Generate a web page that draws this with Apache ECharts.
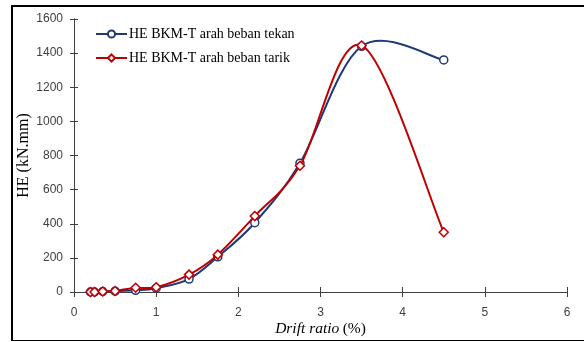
<!DOCTYPE html>
<html>
<head>
<meta charset="utf-8">
<script src="https://cdn.jsdelivr.net/npm/echarts@6/dist/echarts.min.js"></script>
<style>
html,body{margin:0;padding:0;background:#fff;}
#c{width:584px;height:342px;}
</style>
</head>
<body>
<div id="c"></div>
<script>
var driftRatio = [0.2, 0.25, 0.35, 0.5, 0.75, 1.0, 1.4, 1.75, 2.2, 2.75, 3.5, 4.5];
var heTekan = [0, 0, 3, 5, 10, 22, 76, 206, 406, 755, 1440, 1360];
var heTarik = [0, 0, 3, 6, 25, 28, 102, 219, 445, 740, 1445, 350];
var seriesNames = ['HE BKM-T arah beban tekan', 'HE BKM-T arah beban tarik'];

var blue = '#1F3978', red = '#C00000', axisColor = '#404040';

function pairs(xs, ys) { return xs.map(function (x, i) { return [x, ys[i]]; }); }

// Smooth (Catmull-Rom style) curve through the data points, drawn via the chart's own scales
function smoothRenderer(xs, ys, color) {
  return function (params, api) {
    var i = params.dataIndex, n = xs.length;
    if (i >= n - 1) return null;
    function p(k) { k = Math.max(0, Math.min(n - 1, k)); return api.coord([xs[k], ys[k]]); }
    var P0 = p(i - 1), P1 = p(i), P2 = p(i + 1), P3 = p(i + 2);
    return {
      type: 'bezierCurve',
      shape: {
        x1: P1[0], y1: P1[1], x2: P2[0], y2: P2[1],
        cpx1: P1[0] + (P2[0] - P0[0]) / 6, cpy1: P1[1] + (P2[1] - P0[1]) / 6,
        cpx2: P2[0] - (P3[0] - P1[0]) / 6, cpy2: P2[1] - (P3[1] - P1[1]) / 6
      },
      style: {stroke: color, lineWidth: 2, fill: null}
    };
  };
}

var chart = echarts.init(document.getElementById('c'), null, {renderer: 'canvas'});
var xCommon = {type: 'value', min: 0, max: 6, interval: 1, splitLine: {show: false},
  axisLine: {lineStyle: {color: axisColor}}};
var yCommon = {type: 'value', min: 0, max: 1600, interval: 200, splitLine: {show: false},
  axisLine: {lineStyle: {color: axisColor}}};
chart.setOption({
  animation: false,
  grid: {left: 74, right: 17, top: 19, bottom: 50, containLabel: false, outerBoundsMode: 'none'},
  legend: {
    left: 95, top: 27, padding: 0, orient: 'vertical', itemGap: 10, itemWidth: 31, itemHeight: 9,
    textStyle: {fontFamily: 'Liberation Serif', fontSize: 14, lineHeight: 14, color: '#000', padding: [0, 0, 0, -3]},
    data: [
      {name: seriesNames[0], lineStyle: {color: blue, width: 2, opacity: 1}},
      {name: seriesNames[1], lineStyle: {color: red, width: 2, opacity: 1}}
    ]
  },
  xAxis: [
    Object.assign({}, xCommon, {
      axisTick: {show: true, inside: false, length: 5, lineStyle: {color: axisColor}},
      axisLabel: {fontFamily: 'Liberation Sans', fontSize: 12, color: '#404040', margin: 15},
      name: '{i|Drift ratio} {n|(%)}', nameLocation: 'middle', nameGap: 29, nameMoveOverlap: false,
      nameTextStyle: {rich: {
        i: {fontFamily: 'Liberation Serif', fontStyle: 'italic', fontSize: 15.5, color: '#000'},
        n: {fontFamily: 'Liberation Serif', fontSize: 15.5, color: '#000'}
      }}
    }),
    Object.assign({}, xCommon, {position: 'bottom',
      axisTick: {show: true, inside: true, length: 5, lineStyle: {color: axisColor}},
      axisLabel: {show: false}})
  ],
  yAxis: [
    Object.assign({}, yCommon, {
      axisTick: {show: true, inside: false, length: 4, lineStyle: {color: axisColor}},
      axisLabel: {fontFamily: 'Liberation Sans', fontSize: 12, color: '#404040', margin: 11,
        formatter: function (v) { return String(v); }},
      name: 'HE (kN.mm)', nameLocation: 'middle', nameGap: 42, nameRotate: 90, nameMoveOverlap: false,
      nameTextStyle: {fontFamily: 'Liberation Serif', fontSize: 16, color: '#000'}
    }),
    Object.assign({}, yCommon, {position: 'left',
      axisTick: {show: true, inside: true, length: 4, lineStyle: {color: axisColor}},
      axisLabel: {show: false}})
  ],
  series: [
    {name: seriesNames[0] + ' curve', type: 'custom', z: 2, data: pairs(driftRatio, heTekan),
     renderItem: smoothRenderer(driftRatio, heTekan, blue), silent: true},
    {name: seriesNames[0], type: 'line', z: 3, data: pairs(driftRatio, heTekan),
     symbol: 'circle', symbolSize: 8, showSymbol: true,
     lineStyle: {color: blue, width: 2, opacity: 0},
     itemStyle: {color: '#fff', borderColor: blue, borderWidth: 1.5}},
    {name: seriesNames[1] + ' curve', type: 'custom', z: 4, data: pairs(driftRatio, heTarik),
     renderItem: smoothRenderer(driftRatio, heTarik, red), silent: true},
    {name: seriesNames[1], type: 'line', z: 5, data: pairs(driftRatio, heTarik),
     symbol: 'diamond', symbolSize: 9, showSymbol: true,
     lineStyle: {color: red, width: 2, opacity: 0},
     itemStyle: {color: '#fff', borderColor: red, borderWidth: 1.5}}
  ],
  graphic: [
    {type: 'line', shape: {x1: 12, y1: 6, x2: 584, y2: 6}, style: {stroke: '#000', lineWidth: 2}},
    {type: 'line', shape: {x1: 12, y1: 5, x2: 12, y2: 341}, style: {stroke: '#000', lineWidth: 2}},
    {type: 'line', shape: {x1: 12, y1: 340.5, x2: 584, y2: 340.5}, style: {stroke: '#000', lineWidth: 1}}
  ]
});
</script>
</body>
</html>
